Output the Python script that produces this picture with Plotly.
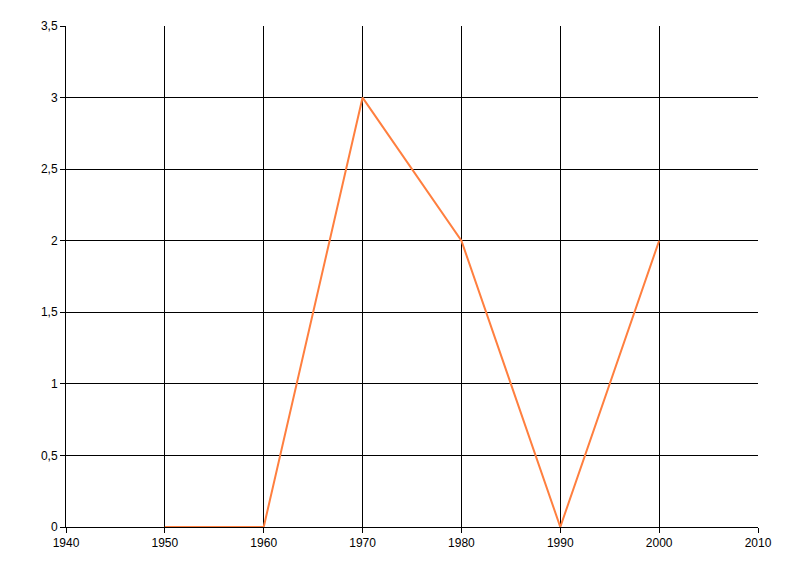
import plotly.graph_objects as go

years = [1950, 1960, 1970, 1980, 1990, 2000]
values = [0, 0, 3, 2, 0, 2]
x_ticks = [1940, 1950, 1960, 1970, 1980, 1990, 2000, 2010]
y_ticks = [0, 0.5, 1, 1.5, 2, 2.5, 3, 3.5]
y_tick_labels = ["0", "0,5", "1", "1,5", "2", "2,5", "3", "3,5"]

fig = go.Figure()
fig.add_trace(go.Scatter(x=years, y=values, mode="lines",
                         line=dict(color="#FF7F3F", width=2)))

axis_common = dict(showgrid=True, gridcolor="black", gridwidth=1,
                   zeroline=False, showline=True, linecolor="black", linewidth=1,
                   ticks="outside", ticklen=5, tickcolor="black",
                   tickfont=dict(family="Liberation Sans, Arial", size=12, color="#000000"),
                   mirror=False)

fig.update_xaxes(range=[1940, 2010], tickvals=x_ticks,
                 ticktext=[str(v) for v in x_ticks], **axis_common)
fig.update_yaxes(range=[0, 3.5], tickvals=y_ticks, ticktext=y_tick_labels,
                 **axis_common)

fig.update_layout(width=800, height=576, showlegend=False,
                  plot_bgcolor="white", paper_bgcolor="white",
                  margin=dict(l=58, r=50, t=18, b=57))

fig.write_html("out.html")
